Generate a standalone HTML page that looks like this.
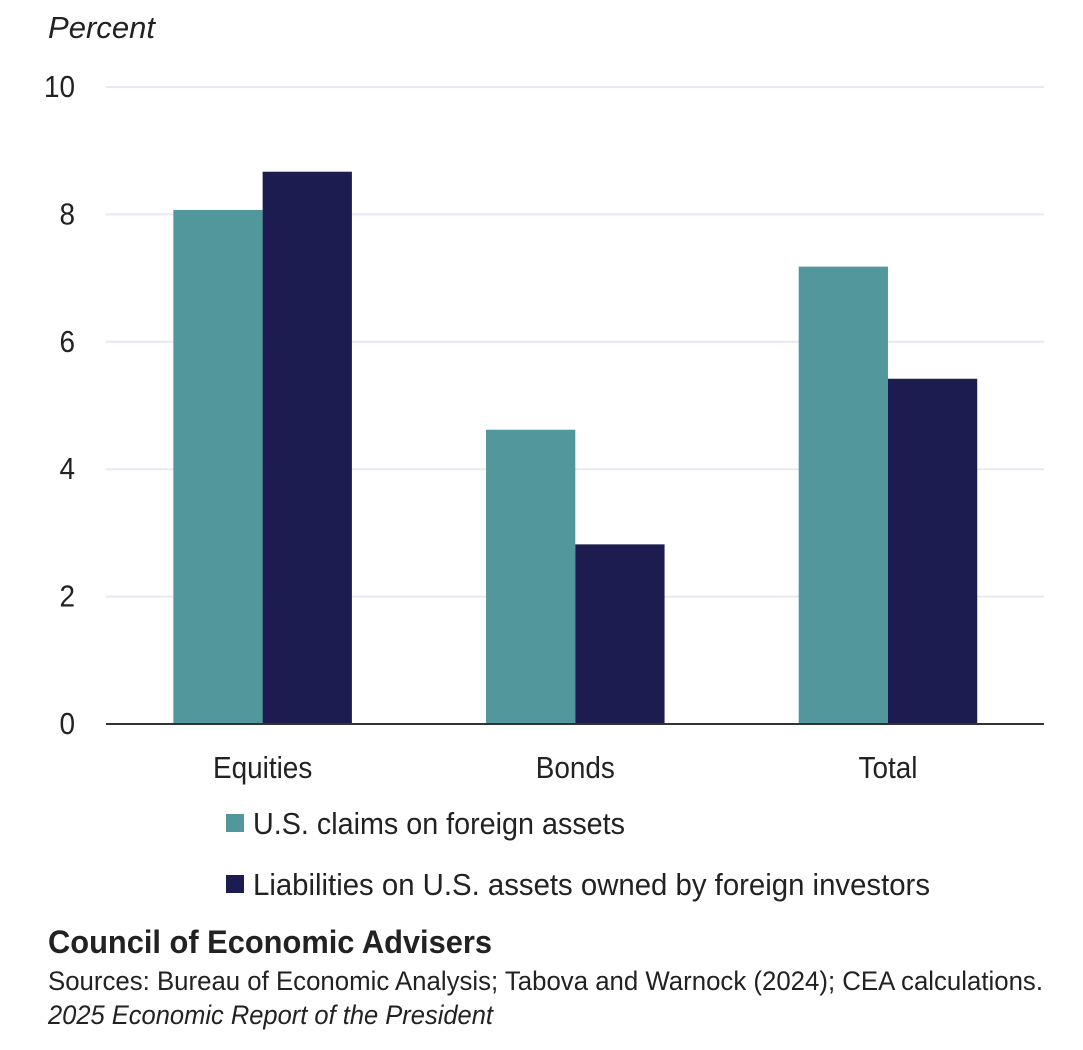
<!DOCTYPE html>
<html lang="en">
<head>
<meta charset="utf-8">
<title>U.S. claims and liabilities chart</title>
<style>
  html, body { margin: 0; padding: 0; background: #ffffff; }
  svg { display: block; }
  text { font-family: "Liberation Sans", sans-serif; fill: #222222; }
</style>
</head>
<body>
<svg id="chart" width="1083" height="1050" viewBox="0 0 1083 1050" xmlns="http://www.w3.org/2000/svg">
  <rect x="0" y="0" width="1083" height="1050" fill="#ffffff"/>
  <text x="48" y="38" font-size="31" font-style="italic" textLength="107" lengthAdjust="spacingAndGlyphs">Percent</text>
  <g id="grid"></g>
  <g id="bars"></g>
  <line x1="106" x2="1044" y1="724" y2="724" stroke="#333333" stroke-width="2"/>
  <g id="yticks"></g>
  <g id="xticks"></g>

  <g>
    <g>
      <rect x="226" y="814" width="18" height="18" fill="#52979b"/>
      <text x="253" y="834" font-size="30.5" textLength="372" lengthAdjust="spacingAndGlyphs">U.S. claims on foreign assets</text>
    </g>
    <g>
      <rect x="226" y="875" width="18" height="18" fill="#1c1c50"/>
      <text x="253" y="895" font-size="30.5" textLength="677" lengthAdjust="spacingAndGlyphs">Liabilities on U.S. assets owned by foreign investors</text>
    </g>
  </g>

  <text x="48" y="953" font-size="32" font-weight="bold" textLength="444" lengthAdjust="spacingAndGlyphs">Council of Economic Advisers</text>
  <text x="48" y="990" font-size="27" textLength="995" lengthAdjust="spacingAndGlyphs">Sources: Bureau of Economic Analysis; Tabova and Warnock (2024); CEA calculations.</text>
  <text x="48" y="1024" font-size="27" font-style="italic" textLength="445" lengthAdjust="spacingAndGlyphs">2025 Economic Report of the President</text>
</svg>

<script>
const categories = ['Equities', 'Bonds', 'Total'];
const claimsValues = [8.07, 4.62, 7.18];
const liabilitiesValues = [8.67, 2.82, 5.42];
const yTicks = [0, 2, 4, 6, 8, 10];

const NS = 'http://www.w3.org/2000/svg';
const plotLeft = 106, plotRight = 1044, plotTop = 87, plotBottom = 724;
const yMax = 10;
const barShare = 0.2855;
const groupNudge = 0.3;
const labelSize = 30.5;
const labelCondense = 0.915;

function yScale(v) {
  return plotBottom - (v / yMax) * (plotBottom - plotTop);
}
function bandCenter(i) {
  const band = (plotRight - plotLeft) / categories.length;
  return plotLeft + band * (i + 0.5) + groupNudge;
}
function condense(el) {
  el.setAttribute('textLength', el.getComputedTextLength() * labelCondense);
  el.setAttribute('lengthAdjust', 'spacingAndGlyphs');
}
const barWidth = ((plotRight - plotLeft) / categories.length) * barShare;

const gridGroup = document.getElementById('grid');
const yTickGroup = document.getElementById('yticks');
yTicks.forEach(function (t) {
  if (t !== 0) {
    const line = document.createElementNS(NS, 'line');
    
    
    line.setAttribute('x1', plotLeft);
    line.setAttribute('x2', plotRight);
    line.setAttribute('y1', yScale(t));
    line.setAttribute('y2', yScale(t));
    line.setAttribute('stroke', '#e8e8f5');
    line.setAttribute('stroke-width', '2');
    gridGroup.appendChild(line);
  }
  const label = document.createElementNS(NS, 'text');
  
  
  label.setAttribute('x', 75);
  label.setAttribute('y', yScale(t) + 10);
  label.setAttribute('text-anchor', 'end');
  label.setAttribute('font-size', labelSize);
  label.textContent = String(t);
  yTickGroup.appendChild(label);
  condense(label);
});

const barGroup = document.getElementById('bars');
function addBar(x, value, fill) {
  const r = document.createElementNS(NS, 'rect');
  
  
  r.setAttribute('x', x);
  r.setAttribute('y', yScale(value));
  r.setAttribute('width', barWidth);
  r.setAttribute('height', yScale(0) - yScale(value));
  r.setAttribute('fill', fill);
  barGroup.appendChild(r);
}

const xTickGroup = document.getElementById('xticks');
categories.forEach(function (c, i) {
  const cx = bandCenter(i);
  addBar(cx - barWidth, claimsValues[i], '#52979b');
  addBar(cx, liabilitiesValues[i], '#1c1c50');

  const label = document.createElementNS(NS, 'text');
  
  
  label.setAttribute('x', cx);
  label.setAttribute('y', 778);
  label.setAttribute('text-anchor', 'middle');
  label.setAttribute('font-size', labelSize);
  label.textContent = c;
  xTickGroup.appendChild(label);
  condense(label);
});
</script>
</body>
</html>
